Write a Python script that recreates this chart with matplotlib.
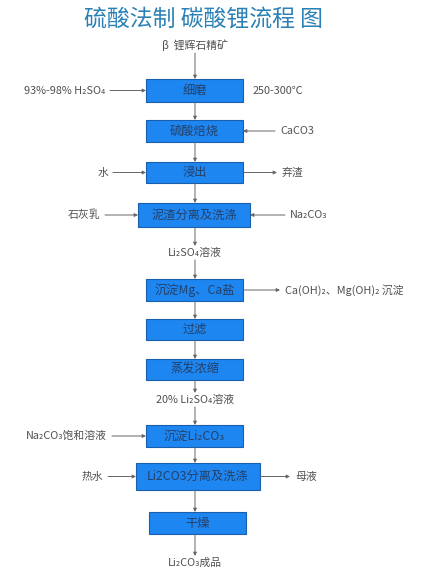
import matplotlib.pyplot as plt
from matplotlib.patches import Rectangle

plt.rcParams['font.family'] = ['Noto Sans CJK SC', 'DejaVu Sans']

title = '硫酸法制 碳酸锂流程 图'
start_label = 'β  锂辉石精矿'

# process boxes
box_labels = ['细磨', '硫酸焙烧', '浸出', '泥渣分离及洗涤', '沉淀Mg、Ca盐',
              '过滤', '蒸发浓缩', '沉淀Li₂CO₃', 'Li2CO3分离及洗涤', '干燥']
# box geometry (left, right, top, bottom) in pixel units
box_x0 = [146, 146, 146, 138, 146, 146, 146, 146, 136, 149]
box_x1 = [243, 243, 243, 250, 243, 243, 243, 243, 260, 246]
box_y0 = [79, 120, 162, 203, 279, 319, 359, 425, 463, 512]
box_y1 = [102, 142, 183, 227, 301, 340, 380, 447, 490, 534]

# intermediate labels between boxes
mid_labels = ['Li₂SO₄溶液', '20% Li₂SO₄溶液', 'Li₂CO₃成品']
mid_y = [253, 400, 563]

# side streams
side_box = [0, 0, 1, 2, 2, 3, 3, 4, 7, 8, 8]
side_pos = ['L', 'R', 'R', 'L', 'R', 'L', 'R', 'R', 'L', 'L', 'R']
side_text = ['93%-98% H₂SO₄', '250-300℃', 'CaCO3', '水', '弃渣', '石灰乳',
             'Na₂CO₃', 'Ca(OH)₂、Mg(OH)₂ 沉淀', 'Na₂CO₃饱和溶液', '热水', '母液']
side_dir = ['in', None, 'in', 'in', 'out', 'in', 'in', 'out', 'in', 'in', 'out']
side_gap = [110, 253, 275, 113, 277, 105, 285, 280, 112, 108, 290]

fig = plt.figure(figsize=(4.34, 5.71), dpi=100)
ax = fig.add_axes([0, 0, 1, 1])
ax.set_xlim(0, 434)
ax.set_ylim(571, 0)
ax.axis('off')

blue = '#1e86f0'
edge = '#1a5fae'
txt = '#505050'
fs = 7.8
arrow_kw = dict(arrowstyle='-|>', color='#666666', lw=0.7, mutation_scale=5,
                shrinkA=0, shrinkB=0)

ax.text(204, 19, title, ha='center', va='center', fontsize=16.5, color='#2b80b6')
ax.text(195, 45, start_label, ha='center', va='center', fontsize=fs, color=txt)

cx = 195
for i, lab in enumerate(box_labels):
    ax.add_patch(Rectangle((box_x0[i], box_y0[i]), box_x1[i] - box_x0[i],
                           box_y1[i] - box_y0[i], facecolor=blue,
                           edgecolor=edge, lw=0.8))
    ax.text((box_x0[i] + box_x1[i]) / 2, (box_y0[i] + box_y1[i]) / 2, lab,
            ha='center', va='center', fontsize=8.8, color='#24406a')

for y, lab in zip(mid_y, mid_labels):
    ax.text(cx, y, lab, ha='center', va='center', fontsize=fs, color=txt)

# vertical connections
ax.annotate('', xy=(cx, box_y0[0]), xytext=(cx, 53), arrowprops=arrow_kw)
for i in range(len(box_labels) - 1):
    y_top = box_y1[i]
    y_bot = box_y0[i + 1]
    if i == 3:
        ax.annotate('', xy=(cx, mid_y[0] - 7), xytext=(cx, y_top), arrowprops=arrow_kw)
        ax.annotate('', xy=(cx, y_bot), xytext=(cx, mid_y[0] + 7), arrowprops=arrow_kw)
    elif i == 6:
        ax.annotate('', xy=(cx, mid_y[1] - 7), xytext=(cx, y_top), arrowprops=arrow_kw)
        ax.annotate('', xy=(cx, y_bot), xytext=(cx, mid_y[1] + 7), arrowprops=arrow_kw)
    else:
        ax.annotate('', xy=(cx, y_bot), xytext=(cx, y_top), arrowprops=arrow_kw)
ax.annotate('', xy=(cx, mid_y[2] - 7), xytext=(cx, box_y1[-1]), arrowprops=arrow_kw)

# side streams
for b, pos, lab, d, g in zip(side_box, side_pos, side_text, side_dir, side_gap):
    y = (box_y0[b] + box_y1[b]) / 2
    if pos == 'L':
        ax.text(g - 5, y, lab, ha='right', va='center', fontsize=fs, color=txt)
        if d == 'in':
            ax.annotate('', xy=(box_x0[b], y), xytext=(g, y), arrowprops=arrow_kw)
    else:
        if d is None:
            ax.text(g, y, lab, ha='left', va='center', fontsize=fs, color=txt)
        else:
            ax.text(g + 5, y, lab, ha='left', va='center', fontsize=fs, color=txt)
            if d == 'in':
                ax.annotate('', xy=(box_x1[b], y), xytext=(g, y), arrowprops=arrow_kw)
            else:
                ax.annotate('', xy=(g, y), xytext=(box_x1[b], y), arrowprops=arrow_kw)

fig.savefig('out.png', dpi=100)
